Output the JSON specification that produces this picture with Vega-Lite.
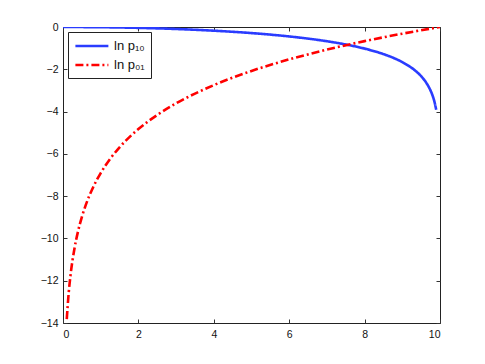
{
  "$schema": "https://vega.github.io/schema/vega-lite/v6.json",
  "width": 377,
  "height": 296,
  "autosize": {"type": "none"},
  "padding": {"left": 63, "top": 27, "right": 45, "bottom": 41},
  "background": "white",
  "config": {
    "view": {"stroke": "#222", "strokeWidth": 1},
    "font": "Liberation Sans",
    "axis": {
      "grid": false, "domain": false, "tickSize": -4, "tickColor": "#333",
      "labelFont": "Liberation Sans", "labelFontSize": 10.5, "labelColor": "#111",
      "title": null
    },
    "legend": {
      "title": null, "orient": "top-left", "offset": 5, "strokeColor": "#222",
      "fillColor": "white", "padding": 6, "symbolType": "M-1,0H4", "symbolSize": 174,
      "symbolStrokeWidth": 2.6, "labelFont": "Liberation Sans", "labelFontSize": 13,
      "labelColor": "#111", "rowPadding": 4, "labelOffset": 24, "labelBaseline": "middle"
    }
  },
  "data": {"values": [
    {"x": 0, "y": 0, "s": "ln p₁₀"},
    {"x": 1, "y": -0.01005, "s": "ln p₁₀"},
    {"x": 2, "y": -0.0408, "s": "ln p₁₀"},
    {"x": 3, "y": -0.0943, "s": "ln p₁₀"},
    {"x": 4, "y": -0.1744, "s": "ln p₁₀"},
    {"x": 5, "y": -0.2877, "s": "ln p₁₀"},
    {"x": 6, "y": -0.4463, "s": "ln p₁₀"},
    {"x": 6.5, "y": -0.549, "s": "ln p₁₀"},
    {"x": 7, "y": -0.6733, "s": "ln p₁₀"},
    {"x": 7.5, "y": -0.8267, "s": "ln p₁₀"},
    {"x": 8, "y": -1.0217, "s": "ln p₁₀"},
    {"x": 8.5, "y": -1.2819, "s": "ln p₁₀"},
    {"x": 8.8, "y": -1.4889, "s": "ln p₁₀"},
    {"x": 9, "y": -1.6607, "s": "ln p₁₀"},
    {"x": 9.2, "y": -1.8734, "s": "ln p₁₀"},
    {"x": 9.3, "y": -2.0017, "s": "ln p₁₀"},
    {"x": 9.4, "y": -2.1507, "s": "ln p₁₀"},
    {"x": 9.5, "y": -2.3279, "s": "ln p₁₀"},
    {"x": 9.6, "y": -2.5459, "s": "ln p₁₀"},
    {"x": 9.7, "y": -2.8285, "s": "ln p₁₀"},
    {"x": 9.75, "y": -3.0083, "s": "ln p₁₀"},
    {"x": 9.8, "y": -3.2289, "s": "ln p₁₀"},
    {"x": 9.85, "y": -3.514, "s": "ln p₁₀"},
    {"x": 9.9, "y": -3.917, "s": "ln p₁₀"},
    {"x": 0.1, "y": -13.8155, "s": "ln p₀₁"},
    {"x": 0.15, "y": -12.599, "s": "ln p₀₁"},
    {"x": 0.2, "y": -11.736, "s": "ln p₀₁"},
    {"x": 0.3, "y": -10.52, "s": "ln p₀₁"},
    {"x": 0.4, "y": -9.657, "s": "ln p₀₁"},
    {"x": 0.5, "y": -8.987, "s": "ln p₀₁"},
    {"x": 0.6, "y": -8.44, "s": "ln p₀₁"},
    {"x": 0.8, "y": -7.577, "s": "ln p₀₁"},
    {"x": 1, "y": -6.908, "s": "ln p₀₁"},
    {"x": 1.25, "y": -6.238, "s": "ln p₀₁"},
    {"x": 1.5, "y": -5.691, "s": "ln p₀₁"},
    {"x": 2, "y": -4.828, "s": "ln p₀₁"},
    {"x": 2.5, "y": -4.159, "s": "ln p₀₁"},
    {"x": 3, "y": -3.612, "s": "ln p₀₁"},
    {"x": 4, "y": -2.749, "s": "ln p₀₁"},
    {"x": 5, "y": -2.079, "s": "ln p₀₁"},
    {"x": 6, "y": -1.532, "s": "ln p₀₁"},
    {"x": 7, "y": -1.07, "s": "ln p₀₁"},
    {"x": 8, "y": -0.669, "s": "ln p₀₁"},
    {"x": 9, "y": -0.316, "s": "ln p₀₁"},
    {"x": 10, "y": 0, "s": "ln p₀₁"}
  ]},
  "layer": [
    {
      "mark": {"type": "line", "strokeWidth": 2.6, "interpolate": "monotone", "clip": true},
      "encoding": {
        "x": {"field": "x", "type": "quantitative", "scale": {"domain": [0, 10], "nice": false, "zero": false},
              "axis": {"orient": "bottom", "values": [0, 2, 4, 6, 8, 10], "labelPadding": 10}},
        "y": {"field": "y", "type": "quantitative", "scale": {"domain": [-14, 0], "nice": false, "zero": false},
              "axis": {"orient": "left", "values": [0, -2, -4, -6, -8, -10, -12, -14], "labelPadding": 9}},
        "color": {"field": "s", "type": "nominal",
                  "scale": {"domain": ["ln p₁₀", "ln p₀₁"], "range": ["#2a3cff", "#ff0000"]}},
        "strokeDash": {"field": "s", "type": "nominal",
                       "scale": {"domain": ["ln p₁₀", "ln p₀₁"], "range": [[1, 0], [8, 3, 2, 3]]}}
      }
    },
    {
      "mark": {"type": "line", "opacity": 0},
      "encoding": {
        "x": {"field": "x", "type": "quantitative", "axis": {"orient": "top", "values": [0, 2, 4, 6, 8, 10], "labels": false}},
        "y": {"field": "y", "type": "quantitative", "axis": {"orient": "right", "values": [0, -2, -4, -6, -8, -10, -12, -14], "labels": false}},
        "detail": {"field": "s", "type": "nominal"}
      }
    }
  ],
  "resolve": {"axis": {"x": "independent", "y": "independent"}}
}
